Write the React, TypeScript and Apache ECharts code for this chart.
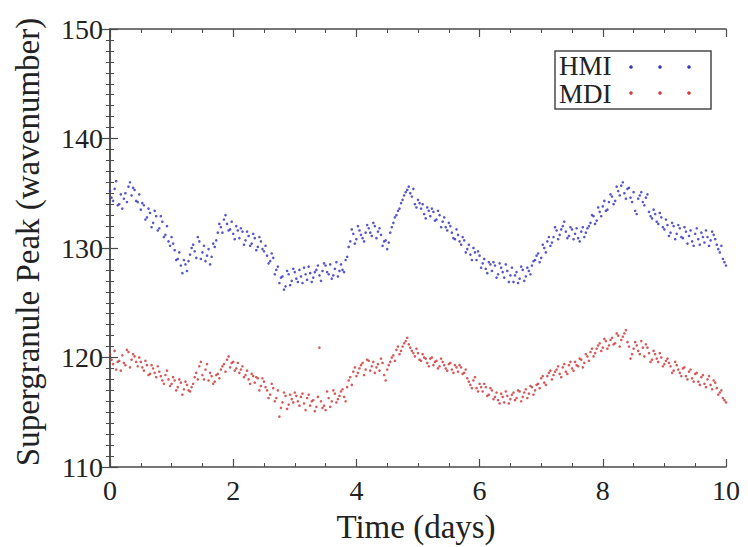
import React, { useEffect, useRef } from "react";
import * as echarts from "echarts";

// time grid (days): set A at 0, 0.05, ...; set B offset by half a step
const T_STEP = 0.05;
const T_START_A = 0;
const T_START_B = 0.025;

const hmiValuesA = [
  135.2, 134.3, 136.1, 134.0, 133.6, 135.0, 135.6, 134.8, 135.3, 134.2,
  133.5, 133.9, 132.8, 133.2, 132.3, 132.9, 131.8, 132.4, 131.2, 130.6,
  131.0, 129.8, 129.0, 128.4, 128.9, 127.9, 129.4, 130.3, 129.1, 130.6,
  129.6, 128.8, 129.9, 129.2, 130.1, 131.4, 131.9, 132.6, 132.2, 131.7,
  131.3, 132.0, 130.9, 131.5, 130.7, 131.1, 130.4, 130.9, 130.1, 130.6,
  129.7, 129.3, 128.8, 129.1, 128.0, 126.8, 127.4, 126.5, 127.6, 127.0,
  127.8, 126.9, 127.4, 128.2, 127.1, 127.7, 127.3, 128.0, 127.5, 127.9,
  128.4, 127.6, 127.2, 128.1, 127.4, 128.5, 127.8, 129.2, 130.6, 131.3,
  130.8, 131.6, 130.9, 131.4, 131.8, 131.1, 132.0, 131.5, 131.2, 130.6,
  129.9, 131.4, 132.3, 133.0, 133.6, 134.4, 135.1, 135.6, 134.7, 134.0,
  134.4, 133.6, 133.1, 133.7, 132.9, 133.3, 132.6, 133.0, 132.4, 131.9,
  132.3, 131.4, 130.8, 131.2, 130.3, 130.7, 129.9, 129.4, 130.0, 128.9,
  129.3, 128.6, 128.1, 128.7, 127.9, 128.4, 127.6, 128.2, 127.3, 127.9,
  127.5, 126.9, 127.8, 127.2, 128.0, 127.4, 127.9, 128.4, 128.9, 129.5,
  129.1, 130.0, 130.6, 130.2, 131.0, 131.6, 131.2, 132.0, 131.5, 131.1,
  131.7, 131.3, 130.9, 131.5, 131.0, 131.8, 132.3, 132.9, 132.5, 133.3,
  133.8, 133.4, 134.2, 134.7, 134.3, 135.2, 135.7, 135.0, 135.4, 134.6,
  135.1, 133.1, 134.8, 134.2, 134.6, 133.3, 132.7, 133.1, 132.2, 132.8,
  131.7, 132.1, 131.4, 132.0, 131.3, 131.8, 130.9, 131.5, 131.1, 130.6,
  131.3, 130.8, 131.4, 130.5, 131.0, 130.7, 131.2, 130.3, 129.6, 129.0,
  128.4,
];

const hmiValuesB = [
  134.6, 135.4, 133.9, 134.9, 134.5, 134.2, 136.0, 135.5, 134.3, 134.9,
  134.1, 132.6, 133.6, 131.9, 133.4, 131.6, 132.9, 131.0, 132.0, 130.2,
  130.4, 128.9, 129.6, 127.7, 128.5, 128.8, 130.0, 129.7, 131.0, 129.0,
  130.2, 129.3, 128.5, 130.4, 130.7, 132.2, 131.4, 133.0, 131.6, 132.4,
  130.8, 131.6, 131.8, 130.3, 131.5, 130.2, 131.3, 129.8, 131.0, 129.9,
  130.2, 128.6, 129.5, 127.6, 128.3, 127.3, 126.2, 127.9, 126.6, 128.1,
  127.2, 128.0, 126.8, 127.6, 128.3, 126.9, 127.8, 128.4, 127.0, 128.6,
  127.8, 128.5, 127.5, 128.7, 127.9, 128.0, 128.9, 130.1, 131.7, 130.4,
  132.0, 131.2, 130.6, 132.1, 131.4, 132.3, 130.9, 131.8, 130.2, 130.7,
  130.5, 131.9, 132.8, 133.4, 134.1, 134.8, 135.3, 135.0, 135.4, 133.7,
  134.1, 134.0, 132.7, 133.4, 133.6, 132.5, 133.4, 131.9, 132.8, 131.6,
  132.0, 130.9, 131.7, 130.6, 131.0, 129.6, 130.3, 128.9, 129.6, 129.7,
  128.2, 129.0, 127.7, 128.5, 128.7, 127.3, 128.6, 127.8, 128.5, 126.9,
  128.2, 127.5, 126.8, 128.3, 127.0, 128.2, 127.6, 128.8, 129.3, 128.7,
  130.3, 129.6, 131.0, 130.5, 131.9, 130.8, 131.7, 132.4, 130.9, 131.9,
  130.8, 131.8, 130.6, 131.9, 131.4, 132.0, 133.0, 132.2, 133.7, 132.9,
  134.3, 133.5, 134.9, 134.0, 135.6, 134.8, 136.0, 134.5, 135.5, 134.2,
  133.4, 134.5, 135.1, 133.9, 134.9, 132.9, 133.5, 132.4, 133.2, 131.9,
  132.6, 131.1, 132.3, 130.8, 132.1, 131.0, 131.9, 130.4, 131.6, 130.2,
  131.8, 130.3, 131.0, 131.6, 130.2, 131.5, 130.8, 129.9, 130.2, 128.7,
];

const mdiValuesA = [
  120.3, 119.4, 118.9, 119.7, 120.2, 119.3, 120.5, 119.8, 120.1, 119.2,
  119.6, 118.8, 119.3, 118.5, 119.0, 118.2, 118.7, 117.9, 118.4, 118.0,
  117.6, 117.9, 117.3, 117.7, 117.1, 117.5, 116.9, 117.6, 118.6, 119.2,
  118.4, 118.9, 117.9, 118.3, 117.8, 118.5, 118.9, 119.4, 119.8, 119.1,
  119.6, 119.0, 118.6, 119.2, 118.4, 118.0, 118.5, 117.7, 118.1, 117.4,
  117.8, 117.0, 116.6, 117.2, 116.3, 114.6, 115.9, 116.5, 115.7, 116.2,
  116.8, 116.0, 116.4, 115.8, 116.3, 115.6, 116.1, 115.5, 120.9, 115.4,
  115.2, 116.3, 116.0, 116.7, 116.2, 116.9, 116.4, 117.3, 118.2, 118.7,
  118.3, 119.0, 119.5, 118.9, 119.7, 119.2, 118.6, 119.4, 119.9, 118.4,
  118.9, 119.6, 120.2, 120.7, 120.3, 121.0, 121.5, 121.2, 120.6, 120.1,
  120.4, 119.7, 120.0, 119.5, 119.9, 119.3, 119.7, 119.2, 119.6, 119.0,
  119.4, 118.9, 119.3, 118.7, 119.1, 118.6, 118.1, 117.5, 117.9, 117.2,
  117.6, 116.9, 117.3, 116.6, 117.0, 116.4, 116.1, 116.7, 115.9, 116.5,
  116.2, 116.8, 116.3, 116.9, 116.4, 117.1, 116.7, 117.3, 117.0, 117.6,
  118.1, 117.7, 118.3, 118.8, 118.4, 118.9, 118.5, 119.1, 118.7, 119.3,
  119.0, 119.6, 119.2, 119.8, 119.5, 120.1, 120.5, 120.1, 120.8, 121.3,
  120.9, 121.5, 121.1, 121.8, 121.3, 122.0, 121.6, 122.2, 121.4, 119.9,
  120.8, 121.1, 120.3, 120.9, 121.2, 120.4, 119.8, 120.3, 119.6, 120.0,
  119.4, 119.9, 119.2, 118.8, 119.3, 118.6, 119.0, 118.3, 118.7, 118.1,
  118.5, 117.8, 118.2, 117.6, 118.0, 117.5, 117.9, 117.2, 116.8, 116.3,
  115.9,
];

const mdiValuesB = [
  119.8, 120.6, 119.6, 118.8, 119.5, 120.7, 119.1, 120.3, 119.6, 120.0,
  119.1, 119.7, 118.4, 119.3, 118.6, 119.2, 118.3, 117.6, 118.8, 117.4,
  118.2, 117.0, 118.0, 116.6, 117.8, 117.0, 117.3, 118.2, 118.0, 119.6,
  118.0, 119.4, 118.6, 117.6, 118.4, 118.1, 119.2, 118.7, 120.1, 119.5,
  118.8, 119.5, 118.9, 118.2, 118.8, 117.6, 118.3, 118.2, 117.0, 118.1,
  117.3, 116.3, 117.6, 116.0, 117.0, 115.4, 116.8, 115.3, 116.6, 115.9,
  116.5, 115.6, 116.7, 115.2, 116.6, 116.0, 115.1, 116.4, 116.0, 115.6,
  116.9, 115.5, 117.0, 115.9, 116.5, 117.1, 116.0, 117.9, 117.5, 119.1,
  118.6, 119.3, 118.4, 119.8, 118.8, 119.6, 119.1, 118.8, 119.5, 117.9,
  119.3, 120.0, 119.7, 121.0, 120.6, 121.3, 121.8, 120.9, 120.4, 120.8,
  119.8, 120.3, 119.9, 119.2, 120.0, 119.6, 119.0, 119.9, 119.3, 118.8,
  119.5, 118.6, 119.1, 119.3, 118.5, 118.9, 117.8, 117.2, 118.2, 116.9,
  117.3, 117.6, 116.5, 117.2, 116.2, 116.8, 115.8, 116.4, 116.9, 115.8,
  116.6, 116.1, 117.0, 116.0, 116.8, 116.3, 117.4, 116.6, 117.5, 117.2,
  118.3, 117.5, 118.6, 118.0, 118.7, 119.2, 118.2, 119.4, 118.5, 119.6,
  118.8, 119.3, 119.9, 119.1, 120.3, 119.7, 120.8, 120.4, 121.1, 120.6,
  121.7, 120.8, 121.6, 121.2, 122.2, 121.0, 121.9, 122.5, 121.0, 120.3,
  121.4, 120.6, 121.5, 120.1, 120.9, 119.6, 120.6, 119.9, 120.4, 119.2,
  119.7, 119.5, 118.6, 119.6, 118.9, 118.3, 119.1, 118.0, 118.9, 117.8,
  118.6, 117.5, 118.4, 117.3, 118.3, 117.1, 117.7, 116.6, 117.0, 116.1,
];

const xTicks = [0, 2, 4, 6, 8, 10];
const yTicks = [110, 120, 130, 140, 150];
const legendNames = ["HMI", "MDI"];

const HMI_COLOR = "#3838c4";
const MDI_COLOR = "#d03c3c";
const AXIS_COLOR = "#4a4a4a";
const TEXT_COLOR = "#222";
const FONT = "Liberation Serif";

function toPoints(vals: number[], start: number) {
  return vals.map((v, i) => [+(start + i * T_STEP).toFixed(3), v]);
}

export default function App() {
  const ref = useRef<HTMLDivElement>(null);
  useEffect(() => {
    if (!ref.current) return;
    const chart = echarts.init(ref.current, undefined, { renderer: "svg" });
    const axisCommon = {
      axisLine: { show: true, lineStyle: { color: AXIS_COLOR, width: 1.5 } },
      axisTick: { show: true, inside: true, length: 8, lineStyle: { color: AXIS_COLOR, width: 1.2 } },
      minorTick: { show: true, length: 4, lineStyle: { color: AXIS_COLOR, width: 1 } },
      splitLine: { show: false },
      minorSplitLine: { show: false },
    };
    const xMin = xTicks[0];
    const xMax = xTicks[xTicks.length - 1];
    const xInt = xTicks[1] - xTicks[0];
    const yMin = yTicks[0];
    const yMax = yTicks[yTicks.length - 1];
    const yInt = yTicks[1] - yTicks[0];
    const hmiData = toPoints(hmiValuesA, T_START_A).concat(toPoints(hmiValuesB, T_START_B));
    const mdiData = toPoints(mdiValuesA, T_START_A).concat(toPoints(mdiValuesB, T_START_B));
    const dots = [631, 660, 689];
    const option: any = {
      animation: false,
      backgroundColor: "#fff",
      grid: { left: 110, right: 22, top: 29, bottom: 80, containLabel: false },
      xAxis: [
        {
          type: "value", min: xMin, max: xMax, interval: xInt, position: "bottom",
          ...axisCommon,
          minorTick: { ...axisCommon.minorTick, splitNumber: 4 },
          axisLabel: { show: true, margin: 9, fontSize: 28, fontFamily: FONT, color: TEXT_COLOR },
        },
        {
          type: "value", min: xMin, max: xMax, interval: xInt, position: "top",
          ...axisCommon,
          minorTick: { ...axisCommon.minorTick, splitNumber: 4 },
          axisLabel: { show: false },
        },
      ],
      yAxis: [
        {
          type: "value", min: yMin, max: yMax, interval: yInt, position: "left",
          ...axisCommon,
          minorTick: { ...axisCommon.minorTick, splitNumber: 10 },
          axisLabel: { show: true, margin: 7, fontSize: 28, fontFamily: FONT, color: TEXT_COLOR },
        },
        {
          type: "value", min: yMin, max: yMax, interval: yInt, position: "right",
          ...axisCommon,
          minorTick: { ...axisCommon.minorTick, splitNumber: 10 },
          axisLabel: { show: false },
        },
      ],
      series: [
        {
          name: legendNames[0], type: "scatter", xAxisIndex: 0, yAxisIndex: 0,
          data: hmiData, symbol: "circle", symbolSize: 2.6,
          itemStyle: { color: HMI_COLOR, opacity: 0.85 },
        },
        {
          name: legendNames[1], type: "scatter", xAxisIndex: 0, yAxisIndex: 0,
          data: mdiData, symbol: "circle", symbolSize: 2.6,
          itemStyle: { color: MDI_COLOR, opacity: 0.85 },
        },
      ],
      graphic: [
        {
          type: "text", x: 416, y: 527,
          style: { text: "Time (days)", fontSize: 33, fontFamily: FONT, fill: TEXT_COLOR, align: "center", verticalAlign: "middle" },
        },
        {
          type: "text", x: 28, y: 242, rotation: Math.PI / 2,
          style: { text: "Supergranule Peak (wavenumber)", fontSize: 33, fontFamily: FONT, fill: TEXT_COLOR, align: "center", verticalAlign: "middle" },
        },
        {
          type: "rect", x: 555, y: 51,
          shape: { x: 0, y: 0, width: 156, height: 58 },
          style: { fill: "#fff", stroke: AXIS_COLOR, lineWidth: 1.5 },
        },
        {
          type: "text", x: 559, y: 66,
          style: { text: legendNames[0], fontSize: 27, fontFamily: FONT, fill: TEXT_COLOR, align: "left", verticalAlign: "middle" },
        },
        {
          type: "text", x: 559, y: 94,
          style: { text: legendNames[1], fontSize: 27, fontFamily: FONT, fill: TEXT_COLOR, align: "left", verticalAlign: "middle" },
        },
        ...dots.map((cx) => ({
          type: "circle", x: cx, y: 67, shape: { cx: 0, cy: 0, r: 1.8 }, style: { fill: HMI_COLOR },
        })),
        ...dots.map((cx) => ({
          type: "circle", x: cx, y: 93, shape: { cx: 0, cy: 0, r: 1.8 }, style: { fill: MDI_COLOR },
        })),
      ],
    };
    chart.setOption(option);
    return () => chart.dispose();
  }, []);
  return <div ref={ref} style={{ width: 748, height: 547, position: "absolute", left: 0, top: 0 }} />;
}
